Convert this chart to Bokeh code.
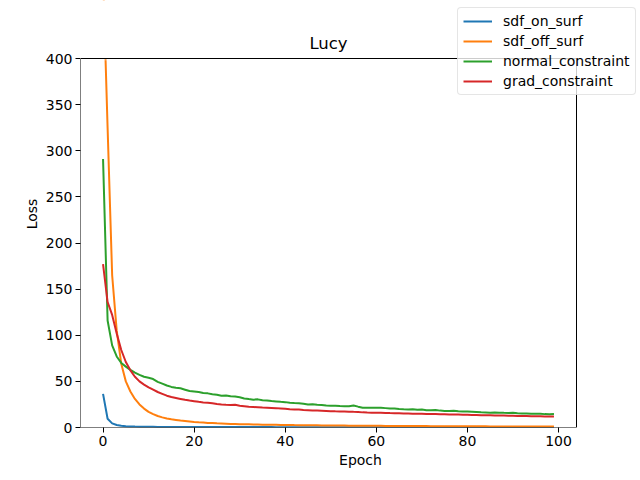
from bokeh.plotting import figure
from bokeh.models import Range1d, FixedTicker, Legend, LegendItem, BoxAnnotation, Label, Title
from bokeh.embed import file_html
from bokeh.resources import INLINE

epochs = list(range(100))

sdf_on_surf = [36.5, 9.5, 4.5, 2.7, 1.9, 1.4, 1.1, 0.95, 0.85, 0.78,
               0.72, 0.68, 0.65, 0.62, 0.6, 0.58, 0.56, 0.55, 0.54, 0.53,
               0.52, 0.51, 0.5, 0.49, 0.48, 0.47, 0.46, 0.46, 0.45, 0.45,
               0.44, 0.44, 0.43, 0.43, 0.42, 0.42, 0.41, 0.41, 0.4, 0.4,
               0.4, 0.39, 0.39, 0.38, 0.38, 0.38, 0.37, 0.37, 0.37, 0.36,
               0.36, 0.36, 0.35, 0.35, 0.35, 0.34, 0.34, 0.34, 0.34, 0.33,
               0.33, 0.33, 0.33, 0.32, 0.32, 0.32, 0.32, 0.31, 0.31, 0.31,
               0.31, 0.3, 0.3, 0.3, 0.3, 0.3, 0.29, 0.29, 0.29, 0.29,
               0.29, 0.28, 0.28, 0.28, 0.28, 0.28, 0.27, 0.27, 0.27, 0.27,
               0.27, 0.27, 0.26, 0.26, 0.26, 0.26, 0.26, 0.26, 0.25, 0.25]

sdf_off_surf = [490, 325, 165, 105, 69, 50, 39, 31, 25, 20.5,
                17, 14.5, 12.5, 11, 9.8, 8.9, 8.2, 7.5, 7.0, 6.5,
                6.0, 5.6, 5.3, 5.0, 4.8, 4.5, 4.3, 4.1, 3.9, 3.75,
                3.6, 3.5, 3.4, 3.3, 3.2, 3.1, 3.0, 2.95, 2.9, 2.8,
                2.75, 2.7, 2.6, 2.55, 2.5, 2.45, 2.4, 2.35, 2.3, 2.25,
                2.2, 2.15, 2.1, 2.05, 2.0, 1.97, 1.94, 1.9, 1.87, 1.84,
                1.8, 1.77, 1.74, 1.71, 1.68, 1.65, 1.62, 1.6, 1.57, 1.55,
                1.52, 1.5, 1.48, 1.45, 1.43, 1.41, 1.39, 1.37, 1.35, 1.33,
                1.31, 1.29, 1.27, 1.25, 1.23, 1.21, 1.2, 1.18, 1.16, 1.15,
                1.13, 1.12, 1.1, 1.09, 1.07, 1.06, 1.04, 1.03, 1.02, 1.0]

normal_constraint = [291, 116, 89, 77, 70, 66, 62.5, 59.5, 57, 55,
                     54, 52.5, 49.5, 47.5, 45.5, 44, 43, 42.5, 41, 39.5,
                     39, 38.5, 37.5, 37, 36, 35.5, 34.5, 34.8, 33.8, 33.5,
                     32.8, 31.5, 30.8, 30.2, 30.5, 29.5, 29.2, 28.6, 28.3, 27.8,
                     27.5, 26.8, 26.5, 26.4, 25.8, 25.0, 25.3, 24.6, 24.4, 23.8,
                     23.5, 23.6, 23.2, 23.0, 23.1, 23.9, 22.6, 21.5, 21.3, 21.4,
                     21.3, 21.5, 21.0, 20.5, 20.6, 20.0, 19.7, 19.5, 19.8, 19.2,
                     19.5, 18.8, 18.6, 18.9, 18.3, 18.0, 17.9, 18.1, 17.5, 17.4,
                     17.3, 17.1, 16.9, 16.5, 16.3, 16.0, 16.2, 16.1, 15.9, 15.8,
                     15.9, 15.5, 15.2, 15.3, 15.0, 14.8, 14.9, 14.5, 14.4, 14.5]

grad_constraint = [177, 136, 122, 102, 84, 71, 62, 55, 50, 46.5,
                   43.5, 41, 38.5, 36.5, 34.5, 33, 32, 31, 30, 29.2,
                   28.5, 27.8, 27.2, 26.8, 26.2, 25.5, 25.0, 24.6, 24.4, 24.6,
                   23.5, 23.0, 22.5, 22.2, 21.9, 21.6, 21.4, 21.2, 21.0, 20.6,
                   20.2, 19.8, 19.6, 19.4, 19.0, 18.8, 18.5, 18.3, 18.1, 17.9,
                   17.7, 17.5, 17.4, 17.3, 17.2, 17.0, 16.9, 16.4, 16.2, 16.1,
                   16.0, 15.9, 15.8, 15.6, 15.5, 15.4, 15.2, 15.1, 15.0, 14.9,
                   14.8, 14.7, 14.6, 14.5, 14.4, 14.3, 14.2, 14.1, 14.0, 13.8,
                   13.7, 13.6, 13.5, 13.4, 13.3, 13.2, 13.1, 13.0, 12.9, 12.8,
                   12.7, 12.6, 12.5, 12.4, 12.3, 12.2, 12.1, 12.0, 11.9, 11.9]

series_names = ["sdf_on_surf", "sdf_off_surf", "normal_constraint", "grad_constraint"]
series_values = [sdf_on_surf, sdf_off_surf, normal_constraint, grad_constraint]
colors = ["#1f77b4", "#ff7f0e", "#2ca02c", "#d62728"]
x_ticks = [0, 20, 40, 60, 80, 100]
y_ticks = [0, 50, 100, 150, 200, 250, 300, 350, 400]
title_text = "Lucy"
x_label = "Epoch"
y_label = "Loss"

# visible axes box (data limits) and the extended frame that also holds the legend
X_LO, X_HI = -4.95, 103.95
Y_LO, Y_HI = 0, 400
BOX_W, BOX_H = 496, 369
FRAME_W, FRAME_H = 560, 427
x_end = X_LO + (X_HI - X_LO) * FRAME_W / BOX_W
y_end = Y_LO + (Y_HI - Y_LO) * FRAME_H / BOX_H

FONT = "DejaVu Sans"

p = figure(output_backend="svg", toolbar_location=None,
           frame_width=FRAME_W, frame_height=FRAME_H,
           min_border_left=80, min_border_top=0, min_border_right=0, min_border_bottom=53,
           x_range=Range1d(X_LO, x_end), y_range=Range1d(Y_LO, y_end))

p.title.visible = False
p.xgrid.visible = False
p.ygrid.visible = False
p.outline_line_color = None
p.background_fill_color = "white"
p.border_fill_color = "white"

for ax, ticks in ((p.xaxis[0], x_ticks), (p.yaxis[0], y_ticks)):
    ax.ticker = FixedTicker(ticks=ticks)
    ax.major_label_text_font = FONT
    ax.major_label_text_font_size = "14px"
    ax.major_tick_out = 5
    ax.major_tick_in = 0
    ax.minor_tick_out = 0
    ax.minor_tick_in = 0
    ax.axis_line_color = None
    ax.major_tick_line_color = "black"
    ax.major_label_text_color = "black"
    ax.major_label_standoff = 3

items = []
for name, vals, c in zip(series_names, series_values, colors):
    r = p.line(epochs, vals, line_color=c, line_width=2)
    items.append(LegendItem(label=name, renderers=[r]))

# white cover above the axes box (values beyond the y limit are hidden like in the original)
p.add_layout(BoxAnnotation(bottom=Y_HI, top=y_end * 1.2, left=X_LO - 20, right=x_end + 20,
                           fill_color="white", fill_alpha=1.0,
                           line_color="white", line_width=4, level="overlay"))
p.add_layout(BoxAnnotation(left=X_HI, fill_color="white", fill_alpha=1.0, line_color=None,
                           level="overlay"))
# axes box
p.add_layout(BoxAnnotation(left=X_LO, right=X_HI, bottom=Y_LO, top=Y_HI,
                           fill_alpha=0, line_color="black", line_width=1, line_alpha=1,
                           level="overlay"))

p.add_layout(Label(x=(X_LO + X_HI) / 2, y=Y_HI, y_offset=6, text=title_text,
                   text_align="center", text_baseline="bottom", level="overlay",
                   text_font=FONT, text_font_size="16.5px", text_color="black"))

xt = Title(text=x_label, align="center", offset=-32, text_font=FONT, text_color="black",
           text_font_size="14px", text_font_style="normal", standoff=3)
p.add_layout(xt, "below")
yt = Title(text=y_label, align="center", offset=-29, text_font=FONT, text_color="black",
           text_font_size="14px", text_font_style="normal", standoff=6)
p.add_layout(yt, "left")

legend = Legend(items=items, location=(377, 332), level="overlay")
legend.label_text_font = FONT
legend.label_text_font_size = "14px"
legend.label_text_color = "black"
legend.border_line_color = "#cccccc"
legend.border_line_width = 1
legend.border_radius = 4
legend.background_fill_alpha = 0.8
legend.glyph_width = 29
legend.glyph_height = 14
legend.label_height = 14
legend.spacing = 4
legend.padding = 5
legend.margin = 0
legend.label_standoff = 11
p.add_layout(legend, "center")

open("out.html", "w").write(file_html(p, INLINE))
